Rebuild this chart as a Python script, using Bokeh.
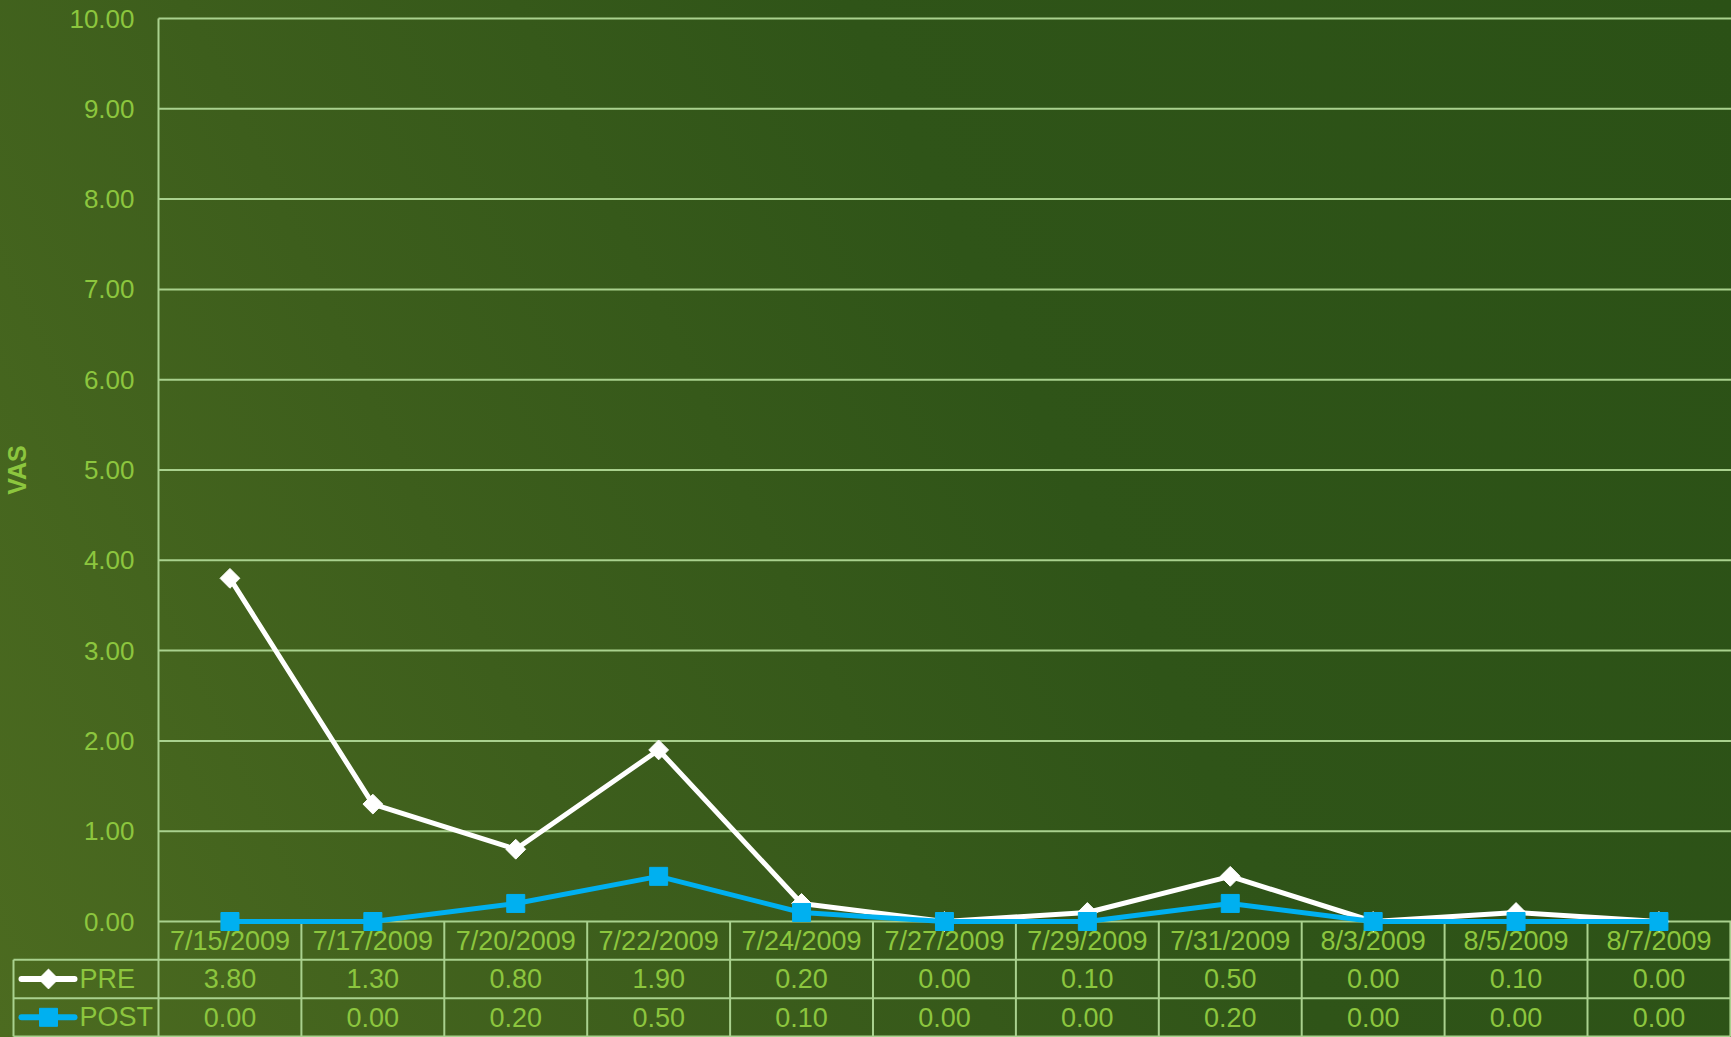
import math
from bokeh.plotting import figure
from bokeh.models import Range1d, FixedTicker, NumeralTickFormatter
from bokeh.embed import file_html
from bokeh.resources import INLINE
from bokeh.core.properties import value

# ---------------- data ----------------
dates = ["7/15/2009", "7/17/2009", "7/20/2009", "7/22/2009", "7/24/2009", "7/27/2009",
         "7/29/2009", "7/31/2009", "8/3/2009", "8/5/2009", "8/7/2009"]
pre = [3.80, 1.30, 0.80, 1.90, 0.20, 0.00, 0.10, 0.50, 0.00, 0.10, 0.00]
post = [0.00, 0.00, 0.20, 0.50, 0.10, 0.00, 0.00, 0.20, 0.00, 0.00, 0.00]
series_names = ["PRE", "POST"]
y_ticks = [0, 1, 2, 3, 4, 5, 6, 7, 8, 9, 10]
y_label = "VAS"

# ---------------- style / layout (pixels) ----------------
FONT = "Liberation Sans"
TXT = "#8cc63e"
GRID = "#a9d18e"
WHITE = "#ffffff"
BLUE = "#00b0f0"
FS_TICK = "26px"
FS_TAB = "27px"

W, H = 1731, 1037
PLOT_LEFT = 158       # px of the value axis
ZERO_PX = 921         # px of the 0 line
TOP_PX = 18           # px of the 10 line
COL_PX = 142.9        # category width
ROW_PX = 38.33        # table row height
TABLE_LEFT_PX = 13

n = len(dates)
idx = list(range(n))
ppu_y = (ZERO_PX - TOP_PX) / 10.0
y_start = -(H - ZERO_PX) / ppu_y
y_end = 10 + TOP_PX / ppu_y
x_start = -0.5 - PLOT_LEFT / COL_PX
x_end = x_start + W / COL_PX
r = ROW_PX / ppu_y

def px2x(px):
    return x_start + px / COL_PX

p = figure(width=W, height=H, output_backend="svg", toolbar_location=None,
           x_range=Range1d(x_start, x_end), y_range=Range1d(y_start, y_end),
           x_axis_location=None, min_border_left=0, min_border_right=0,
           min_border_top=0, min_border_bottom=0,
           background_fill_color=None, border_fill_color=None, outline_line_color=None)
p.styles = {"background": "linear-gradient(65deg, #4c6b20 0%, #3d5e1c 30%, #2f5418 60%, #2b5116 100%)"}
p.xgrid.visible = False
p.ygrid.visible = False

ax = p.yaxis[0]
ax.fixed_location = -0.5
ax.bounds = (-3 * r, 10)
ax.ticker = FixedTicker(ticks=y_ticks)
ax.formatter = NumeralTickFormatter(format="0.00")
ax.axis_line_color = GRID
ax.axis_line_width = 2
ax.major_tick_line_color = None
ax.minor_tick_line_color = None
ax.major_tick_out = 0
ax.major_label_standoff = 24
ax.major_label_text_font = FONT
ax.major_label_text_font_size = FS_TICK
ax.major_label_text_color = TXT

# horizontal value grid lines across the plot area
t_right = n - 0.5
p.segment(x0=[-0.5] * len(y_ticks), y0=y_ticks, x1=[t_right + 0.01] * len(y_ticks), y1=y_ticks,
          line_color=GRID, line_width=2)

# axis title
p.text(x=[px2x(16)], y=[5], text=[y_label], angle=math.pi / 2, text_align="center",
       text_baseline="middle", text_font=value(FONT), text_font_size="25px",
       text_font_style="bold", text_color=TXT)

# ---------------- data table ----------------
tl = px2x(TABLE_LEFT_PX)
row_lines = [-r, -2 * r, -3 * r]
p.segment(x0=[tl] * 3, y0=row_lines, x1=[t_right] * 3, y1=row_lines, line_color=GRID, line_width=2)
sep = [i + 0.5 for i in idx]
p.segment(x0=sep, y0=[0] * n, x1=sep, y1=[-3 * r] * n, line_color=GRID, line_width=2)
p.segment(x0=[tl], y0=[-r], x1=[tl], y1=[-3 * r], line_color=GRID, line_width=2)

p.text(x=idx, y=[-r / 2] * n, text=dates, text_align="center", text_baseline="middle",
       text_font=value(FONT), text_font_size=FS_TAB, text_color=TXT)
for vals, yc in [(pre, -1.5 * r), (post, -2.5 * r)]:
    p.text(x=idx, y=[yc] * n, text=["%.2f" % v for v in vals], text_align="center",
           text_baseline="middle", text_font=value(FONT), text_font_size=FS_TAB, text_color=TXT)

# legend keys in the table's first column
lx0, lx1, lm, lt = px2x(21), px2x(74), px2x(48), px2x(79)
p.segment(x0=[lx0], y0=[-1.5 * r], x1=[lx1], y1=[-1.5 * r], line_color=WHITE, line_width=6,
          line_cap="round")
p.scatter([lm], [-1.5 * r], marker="square", angle=0.785398, size=14, fill_color=WHITE,
          line_color=WHITE)
p.segment(x0=[lx0], y0=[-2.5 * r], x1=[lx1], y1=[-2.5 * r], line_color=BLUE, line_width=6,
          line_cap="round")
p.scatter([lm], [-2.5 * r], marker="square", size=18, fill_color=BLUE, line_color=BLUE)
p.text(x=[lt, lt], y=[-1.5 * r, -2.5 * r], text=series_names, text_align="left",
       text_baseline="middle", text_font=value(FONT), text_font_size=FS_TAB, text_color=TXT)

# ---------------- series ----------------
p.line(idx, pre, line_color=WHITE, line_width=5)
p.scatter(idx, pre, marker="square", angle=0.785398, size=14, fill_color=WHITE, line_color=WHITE)
p.line(idx, post, line_color=BLUE, line_width=5)
p.scatter(idx, post, marker="square", size=18, fill_color=BLUE, line_color=BLUE)

open("out.html", "w").write(file_html(p, INLINE))
